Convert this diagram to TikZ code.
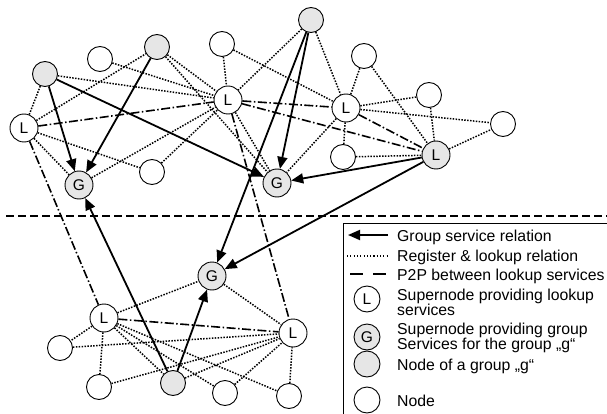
\documentclass[tikz,border=0pt]{standalone}
\usepackage{fontspec}
\setmainfont{Liberation Sans}
\usetikzlibrary{arrows.meta,backgrounds}
\definecolor{ng}{RGB}{230,230,230}
\begin{document}
\begin{tikzpicture}[x=1pt,y=-1pt,
  nd/.style={circle,draw,line width=0.9pt,minimum size=25pt,inner sep=0pt,fill=white,font=\fontsize{15.5}{15.5}\selectfont},
  sn/.style={nd,minimum size=28pt},
  grp/.style={nd,fill=ng},
  gsn/.style={sn,fill=ng},
  svc/.style={line width=1.8pt,-{Triangle[length=12pt,width=10pt]}},
  reg/.style={line width=1.5pt,dash pattern=on 1.5pt off 1.4pt},
  ptp/.style={line width=1.6pt,dash pattern=on 9pt off 2.5pt on 1.5pt off 2.5pt},
  leg/.style={anchor=base west,inner sep=0pt,font=\fontsize{15.8}{14}\selectfont},
]
\useasboundingbox (0,0) rectangle (607,414);
% nodes
\node[grp] (A) at (45,74) {};
\node[nd] (W1) at (100,59) {};
\node[grp] (B) at (157,47) {};
\node[nd] (W2) at (222,44) {};
\node[grp] (C) at (311,20) {};
\node[sn] (L1) at (24,128) {L};
\node[sn] (L2) at (228,100) {L};
\node[sn] (L3) at (346,108) {L};
\node[nd] (W4) at (364,56) {};
\node[nd] (W5) at (429,95) {};
\node[nd] (W6) at (503,124) {};
\node[nd] (W7) at (343,157) {};
\node[gsn] (L4) at (436,155) {L};
\node[gsn] (G1) at (79,185) {G};
\node[nd] (W3) at (152,172) {};
\node[gsn] (G2) at (277,183) {G};
\node[gsn] (G3) at (212,276) {G};
\node[sn] (L5) at (104,318) {L};
\node[sn] (L6) at (293,333) {L};
\node[nd] (W8) at (60,348) {};
\node[nd] (W9) at (99,387) {};
\node[grp] (D) at (173,383) {};
\node[nd] (W10) at (225,393) {};
\node[nd] (W11) at (289,396) {};
\begin{pgfonlayer}{background}
% register & lookup
\foreach \a/\b in {L1/A,L1/B,L1/G1,L1/W3,A/L2,W1/L2,B/L2,B/G2,G1/L2,W3/L2,W2/L2,C/L2,L2/G2,
  W2/L3,C/L3,W4/L3,W4/L4,W5/L3,W5/L4,L3/W6,L4/W6,W7/L3,W7/L4,L3/G2,
  L5/G3,G3/L6,L5/W8,W8/L6,L5/W9,L5/D,L5/W10,L5/W11,W9/L6,D/L6,W10/L6,W11/L6}
  \draw[reg] (\a) -- (\b);
% P2P
\foreach \a/\b in {L1/L2,L2/L3,L2/L4,L3/L4,L1/L5,L2/L6,L5/L6}
  \draw[ptp] (\a) -- (\b);
\end{pgfonlayer}
% group service
\foreach \a/\b in {A/G1,B/G1,A/G2,C/G2,C/G3,L4/G2,L4/G3,D/G1,D/G3}
  \draw[svc] (\a) -- (\b);
% separator
\coordinate (h1) at (6,216);
\coordinate (h2) at (607,216);
\draw[line width=1.4pt,dash pattern=on 8pt off 4pt] (h1) -- (h2);
% legend
\coordinate (bx1) at (343,223);
\coordinate (bx2) at (620,425);
\draw[line width=0.9pt] (bx1) rectangle (bx2);
\coordinate (la) at (388,235); \coordinate (lb) at (348,235);
\draw[svc] (la) -- (lb);
\coordinate (lc) at (347,256); \coordinate (ld) at (387,256);
\draw[line width=1.1pt,dash pattern=on 1.1pt off 2.2pt] (lc) -- (ld);
\coordinate (le) at (350,274); \coordinate (lf) at (387,274);
\draw[line width=1.5pt,dash pattern=on 13pt off 10pt] (le) -- (lf);
\node[sn,minimum size=26pt] (kL) at (367,299) {L};
\node[gsn,minimum size=26pt] (kG) at (367,337) {G};
\node[grp,minimum size=26pt] (kg) at (367,364) {};
\node[nd,minimum size=26pt] (kn) at (367,400) {};
\node[leg] (t1) at (397,241.5) {Group service relation};
\node[leg] (t2) at (397,261) {Register \& lookup relation};
\node[leg] (t3) at (397,280) {P2P between lookup services};
\node[leg] (t4) at (397,300.5) {Supernode providing lookup};
\node[leg] (t4b) at (397,315.5) {services};
\node[leg] (t5) at (397,334.5) {Supernode providing group};
\node[leg] (t5b) at (397,349.5) {Services for the group „g“};
\node[leg] (t6) at (397,370) {Node of a group „g“};
\node[leg] (t7) at (397,406) {Node};
\end{tikzpicture}
\end{document}
